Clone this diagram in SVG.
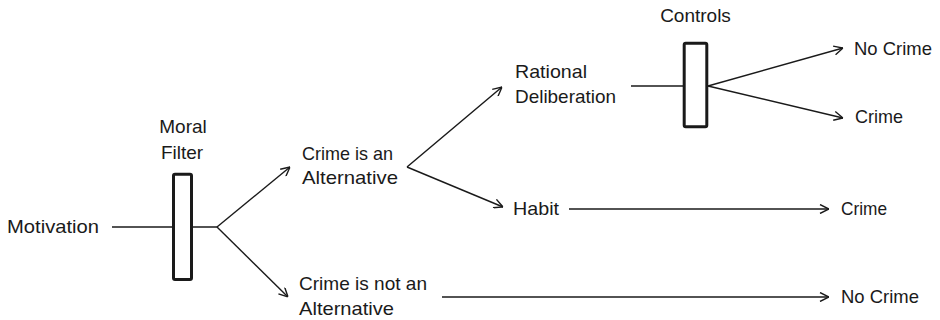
<svg xmlns="http://www.w3.org/2000/svg" width="940" height="320" viewBox="0 0 940 320">
<defs>
<style>
text{font-family:"Liberation Sans",Arial,sans-serif;font-size:19px;fill:#1a1a1a}
.c{fill:none;stroke:#1a1a1a;stroke-width:1.4}
.a{marker-end:url(#arr)}
.box{fill:#fff;stroke:#1a1a1a;stroke-width:3}
</style>
<marker id="arr" viewBox="0 0 10 10" refX="10" refY="5" markerWidth="10" markerHeight="10" markerUnits="userSpaceOnUse" orient="auto">
<path d="M1,0.5 L10,5 L1,9.5" fill="none" stroke="#1a1a1a" stroke-width="1.4"/>
</marker>
</defs>
<rect width="940" height="320" fill="#fff"/>
<g id="connectors">
<line class="c" x1="112" y1="227" x2="217" y2="227"/>
<line class="c a" x1="217" y1="227" x2="290" y2="167"/>
<line class="c a" x1="217" y1="227" x2="288" y2="297"/>
<line class="c a" x1="407" y1="167" x2="502" y2="87"/>
<line class="c a" x1="407" y1="167" x2="503" y2="207"/>
<line class="c a" x1="569" y1="209" x2="829" y2="209"/>
<line class="c a" x1="442" y1="297" x2="829" y2="297"/>
<line class="c" x1="631" y1="86" x2="684" y2="86"/>
<line class="c a" x1="708" y1="86" x2="843" y2="48"/>
<line class="c a" x1="708" y1="86" x2="843" y2="118"/>
</g>
<g id="motivation"><text x="7" y="233" textLength="92" lengthAdjust="spacingAndGlyphs">Motivation</text></g>
<g id="moral-filter">
<text x="183" y="133" text-anchor="middle">Moral</text>
<text x="182" y="159" text-anchor="middle">Filter</text>
<rect class="box" x="173.5" y="174.2" width="18" height="105.3" rx="1.5"/>
</g>
<g id="crime-alt">
<text x="302" y="160" textLength="91" lengthAdjust="spacingAndGlyphs">Crime is an</text>
<text x="302" y="184" textLength="96" lengthAdjust="spacingAndGlyphs">Alternative</text>
</g>
<g id="crime-not-alt">
<text x="299" y="290" textLength="128" lengthAdjust="spacingAndGlyphs">Crime is not an</text>
<text x="299" y="315" textLength="95" lengthAdjust="spacingAndGlyphs">Alternative</text>
</g>
<g id="rational">
<text x="515" y="78" textLength="72" lengthAdjust="spacingAndGlyphs">Rational</text>
<text x="515" y="103" textLength="101" lengthAdjust="spacingAndGlyphs">Deliberation</text>
</g>
<g id="habit"><text x="513" y="215" textLength="46" lengthAdjust="spacingAndGlyphs">Habit</text></g>
<g id="controls">
<text x="695.5" y="22" text-anchor="middle">Controls</text>
<rect class="box" x="684.2" y="43.2" width="22.6" height="83.6" rx="1.5"/>
</g>
<g id="no-crime-1"><text x="854" y="55" textLength="78" lengthAdjust="spacingAndGlyphs">No Crime</text></g>
<g id="crime-1"><text x="855" y="123" textLength="48" lengthAdjust="spacingAndGlyphs">Crime</text></g>
<g id="crime-2"><text x="841" y="215" textLength="46" lengthAdjust="spacingAndGlyphs">Crime</text></g>
<g id="no-crime-2"><text x="841" y="303" textLength="78" lengthAdjust="spacingAndGlyphs">No Crime</text></g>
</svg>
